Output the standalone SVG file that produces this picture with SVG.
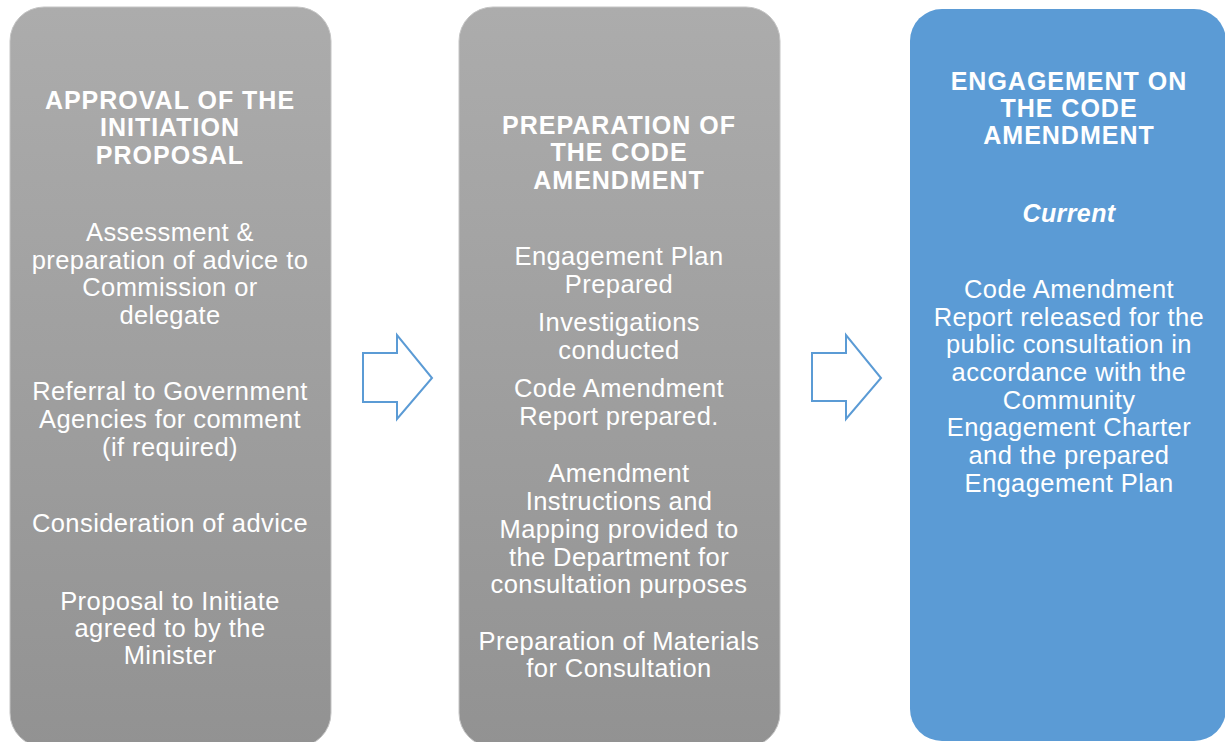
<svg xmlns="http://www.w3.org/2000/svg" width="1225" height="742" viewBox="0 0 1225 742">
<defs>
<linearGradient id="gray" x1="0" y1="0" x2="0" y2="1">
<stop offset="0" stop-color="#acacac"/>
<stop offset="1" stop-color="#929292"/>
</linearGradient>
<style>
.box{fill:url(#gray);stroke:#c4c4c4;stroke-width:1}
.blue{fill:#5b9bd5}
.h{font-family:"Liberation Sans",Arial,sans-serif;font-weight:bold;font-size:25px;fill:#fff;text-anchor:middle;letter-spacing:1px}
.t{font-family:"Liberation Sans",Arial,sans-serif;font-size:25.5px;fill:#fff;text-anchor:middle;letter-spacing:0.42px}
.cur{font-family:"Liberation Sans",Arial,sans-serif;font-weight:bold;font-style:italic;font-size:25px;fill:#fff;text-anchor:middle;letter-spacing:0.4px}
.arrow{fill:#fff;stroke:#5b9bd5;stroke-width:2}
</style>
</defs>
<rect width="1225" height="742" fill="#fff"/>
<g id="connectors">
<polygon class="arrow" points="363,353 397,353 397,335 432,378 397,419 397,402 363,402"/>
<polygon class="arrow" points="812,353 846,353 846,335 881,378 846,419 846,401 812,401"/>
</g>
<g id="node-approval">
<rect class="box" x="10" y="7" width="321" height="740" rx="34"/>
<text class="h" x="170" y="109">APPROVAL OF THE</text>
<text class="h" x="170" y="136">INITIATION</text>
<text class="h" x="170" y="164">PROPOSAL</text>
<text class="t" x="170" y="241">Assessment &amp;</text>
<text class="t" x="170" y="269">preparation of advice to</text>
<text class="t" x="170" y="296">Commission or</text>
<text class="t" x="170" y="324">delegate</text>
<text class="t" x="170" y="400">Referral to Government</text>
<text class="t" x="170" y="428">Agencies for comment</text>
<text class="t" x="170" y="456">(if required)</text>
<text class="t" x="170" y="532">Consideration of advice</text>
<text class="t" x="170" y="610">Proposal to Initiate</text>
<text class="t" x="170" y="637">agreed to by the</text>
<text class="t" x="170" y="664">Minister</text>
</g>
<g id="node-preparation">
<rect class="box" x="459" y="7" width="321" height="740" rx="34"/>
<text class="h" x="619" y="134">PREPARATION OF</text>
<text class="h" x="619" y="161">THE CODE</text>
<text class="h" x="619" y="189">AMENDMENT</text>
<text class="t" x="619" y="265">Engagement Plan</text>
<text class="t" x="619" y="293">Prepared</text>
<text class="t" x="619" y="331">Investigations</text>
<text class="t" x="619" y="359">conducted</text>
<text class="t" x="619" y="397">Code Amendment</text>
<text class="t" x="619" y="425">Report prepared.</text>
<text class="t" x="619" y="482">Amendment</text>
<text class="t" x="619" y="510">Instructions and</text>
<text class="t" x="619" y="538">Mapping provided to</text>
<text class="t" x="619" y="566">the Department for</text>
<text class="t" x="619" y="593">consultation purposes</text>
<text class="t" x="619" y="650">Preparation of Materials</text>
<text class="t" x="619" y="677">for Consultation</text>
</g>
<g id="node-engagement">
<rect class="blue" x="910" y="9" width="316" height="732" rx="32"/>
<text class="h" x="1069" y="90">ENGAGEMENT ON</text>
<text class="h" x="1069" y="117">THE CODE</text>
<text class="h" x="1069" y="144">AMENDMENT</text>
<text class="cur" x="1069" y="222">Current</text>
<text class="t" x="1069" y="298">Code Amendment</text>
<text class="t" x="1069" y="326">Report released for the</text>
<text class="t" x="1069" y="353">public consultation in</text>
<text class="t" x="1069" y="381">accordance with the</text>
<text class="t" x="1069" y="409">Community</text>
<text class="t" x="1069" y="436">Engagement Charter</text>
<text class="t" x="1069" y="464">and the prepared</text>
<text class="t" x="1069" y="492">Engagement Plan</text>
</g>
</svg>
